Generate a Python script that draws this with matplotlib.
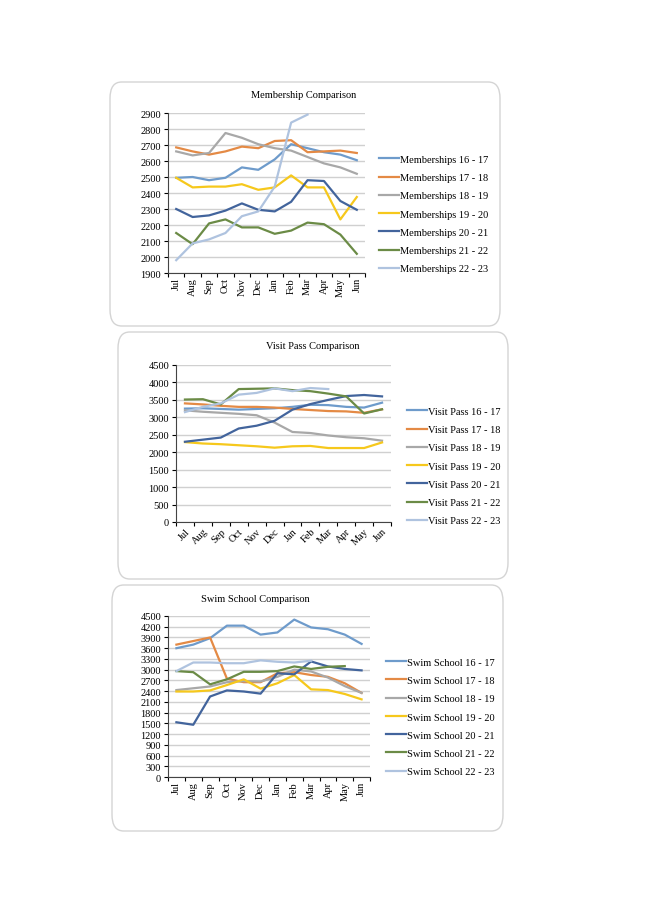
import numpy as np
import matplotlib
matplotlib.use("Agg")
import matplotlib.pyplot as plt
from matplotlib.patches import FancyBboxPatch

nan = np.nan

months = ["Jul", "Aug", "Sep", "Oct", "Nov", "Dec",
          "Jan", "Feb", "Mar", "Apr", "May", "Jun"]
seasons = ["16 - 17", "17 - 18", "18 - 19", "19 - 20", "20 - 21", "21 - 22", "22 - 23"]
colors = ["#6E9BCB", "#E48A45", "#A8A8A8", "#F6C81C", "#42649C", "#6B8B46", "#AFC3DF"]

membership = [
    [2495, 2500, 2480, 2495, 2560, 2545, 2610, 2705, 2680, 2655, 2640, 2605],
    [2685, 2660, 2640, 2660, 2690, 2680, 2725, 2730, 2655, 2660, 2665, 2650],
    [2660, 2635, 2650, 2775, 2745, 2705, 2680, 2665, 2625, 2585, 2560, 2520],
    [2495, 2435, 2440, 2440, 2455, 2420, 2435, 2510, 2435, 2435, 2235, 2375],
    [2300, 2250, 2260, 2290, 2335, 2295, 2285, 2345, 2480, 2475, 2350, 2295],
    [2150, 2080, 2210, 2235, 2185, 2185, 2145, 2165, 2215, 2205, 2140, 2020],
    [1980, 2085, 2110, 2150, 2255, 2285, 2440, 2840, 2890, nan, nan, nan],
]

visit_pass = [
    [3250, 3260, 3240, 3220, 3240, 3260, 3300, 3360, 3350, 3300, 3280, 3420],
    [3400, 3370, 3330, 3300, 3300, 3280, 3240, 3210, 3180, 3170, 3130, 3230],
    [3200, 3160, 3130, 3100, 3060, 2850, 2580, 2550, 2480, 2430, 2400, 2330],
    [2290, 2250, 2230, 2200, 2170, 2130, 2170, 2180, 2120, 2120, 2120, 2280],
    [2300, 2360, 2420, 2680, 2760, 2900, 3220, 3380, 3500, 3610, 3640, 3600],
    [3510, 3520, 3370, 3810, 3820, 3830, 3780, 3750, 3680, 3600, 3110, 3230],
    [3150, 3300, 3400, 3650, 3700, 3830, 3750, 3840, 3810, nan, nan, nan],
]

swim_school = [
    [3600, 3700, 3880, 4230, 4230, 3980, 4040, 4400, 4180, 4130, 3980, 3720],
    [3700, 3800, 3900, 2750, 2650, 2650, 2900, 2930, 2850, 2800, 2620, 2350],
    [2430, 2480, 2530, 2650, 2680, 2670, 2800, 3000, 2950, 2780, 2540, 2350],
    [2390, 2390, 2420, 2570, 2730, 2470, 2620, 2850, 2450, 2430, 2320, 2170],
    [1530, 1460, 2250, 2420, 2390, 2330, 2900, 2870, 3230, 3090, 3020, 2980],
    [2960, 2930, 2590, 2730, 2940, 2940, 2960, 3090, 3020, 3080, 3100, nan],
    [2960, 3200, 3200, 3180, 3180, 3260, 3220, 3200, 3250, nan, nan, nan],
]

W, H = 645, 912
SERIF = "Liberation Serif"
plt.rcParams["font.family"] = SERIF


def fx(px):
    return px / W


def fy(py):
    return 1 - py / H


def draw_box(fig, x0, y0, x1, y1):
    box = FancyBboxPatch((fx(x0), fy(y1)), fx(x1 - x0), (y1 - y0) / H,
                         boxstyle="round,pad=0,rounding_size=0.018",
                         transform=fig.transFigure, facecolor="none",
                         edgecolor="#D4D4D4", linewidth=1.0, zorder=-1)
    fig.patches.append(box)


def draw_chart(fig, rect, data, prefix, title, title_xy, yticks,
               rot, leg_x, leg_y, fsize, leg_size):
    x0, y0, x1, y1 = rect
    ax = fig.add_axes([fx(x0), fy(y1), fx(x1 - x0), (y1 - y0) / H])
    ax.patch.set_alpha(0)
    x = np.arange(len(months))
    for i, s in enumerate(seasons):
        ax.plot(x, data[i], color=colors[i], lw=1.6, label=prefix + " " + s)
    ax.set_xlim(-0.5, 11.5)
    ax.set_ylim(yticks[0], yticks[-1])
    ax.set_yticks(yticks)
    ax.set_xticks(x)
    if rot == 45:
        ax.set_xticklabels(months, rotation=45, ha="right", rotation_mode="anchor",
                           fontsize=fsize)
    else:
        ax.set_xticklabels(months, rotation=rot, ha="center", fontsize=fsize)
    ax.tick_params(axis="y", labelsize=fsize, length=3, width=0.8, pad=2)
    ax.tick_params(axis="x", length=0, pad=3)
    ax.set_xticks(np.arange(-0.5, 12, 1), minor=True)
    ax.tick_params(axis="x", which="minor", length=3, width=0.8)
    ax.grid(axis="y", color="#D0D0D0", lw=1.0)
    ax.set_axisbelow(True)
    for side in ["top", "right"]:
        ax.spines[side].set_visible(False)
    ax.spines["left"].set_color("#444444")
    ax.spines["bottom"].set_color("#444444")
    fig.text(fx(title_xy[0]), fy(title_xy[1]), title, ha="center", va="center",
             fontsize=fsize, family=SERIF)
    ax.legend(loc="center left", bbox_to_anchor=(fx(leg_x), fy(leg_y)),
              bbox_transform=fig.transFigure, frameon=False, fontsize=leg_size,
              handlelength=1.9, handletextpad=0.15, labelspacing=0.86,
              borderpad=0, borderaxespad=0)
    return ax


fig = plt.figure(figsize=(W / 100, H / 100), dpi=100)
fig.patch.set_facecolor("white")

draw_box(fig, 110, 83, 500, 327)
draw_box(fig, 118, 333, 508, 580)
draw_box(fig, 112, 586, 503, 832)

draw_chart(fig, (168, 114, 365, 274), membership, "Memberships",
           "Membership Comparison", (304, 96),
           np.arange(1900, 2901, 100), 90, 379, 215, 7.5, 7.5)

draw_chart(fig, (176, 366, 391, 523), visit_pass, "Visit Pass",
           "Visit Pass Comparison", (313, 347),
           np.arange(0, 4501, 500), 45, 407, 467, 7.5, 7.5)

draw_chart(fig, (168, 617, 370, 778), swim_school, "Swim School",
           "Swim School Comparison", (255, 599),
           np.arange(0, 4501, 300), 90, 386, 718, 7.5, 7.5)

fig.savefig("out.png", dpi=100)
